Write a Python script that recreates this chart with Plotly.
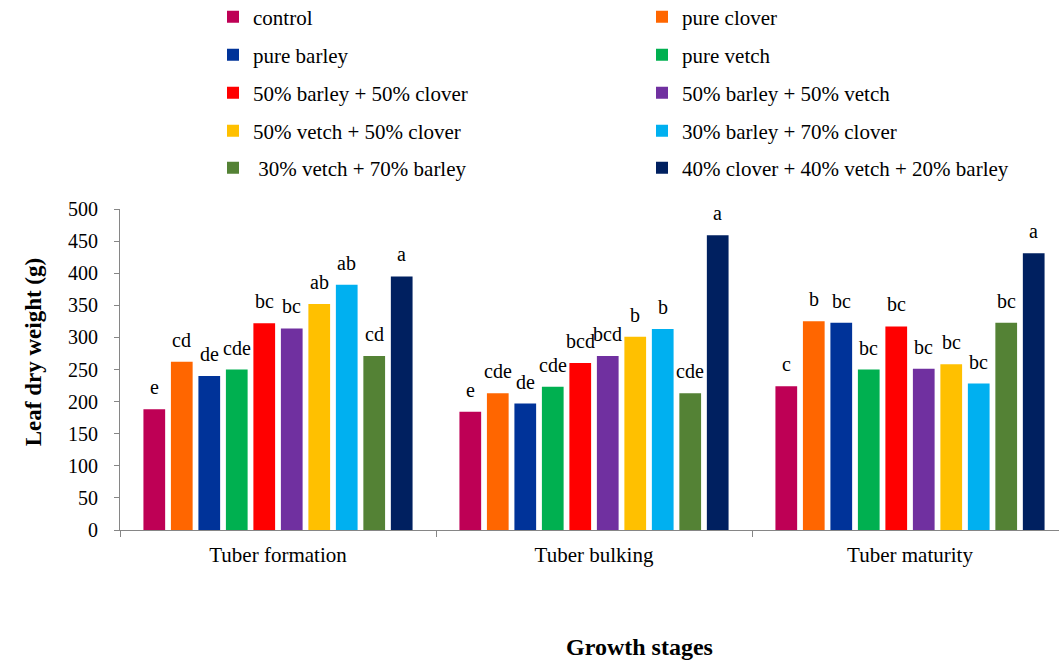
import plotly.graph_objects as go

# Growth stages (x categories)
stages = ["Tuber formation", "Tuber bulking", "Tuber maturity"]

# Treatments (series)
treatments = [
    "control",
    "pure clover",
    "pure barley",
    "pure vetch",
    "50% barley + 50% clover",
    "50% barley + 50% vetch",
    "50% vetch + 50% clover",
    "30% barley + 70% clover",
    " 30% vetch + 70% barley",
    "40% clover + 40% vetch + 20% barley",
]

# Leaf dry weight (g) per treatment, one value per growth stage
control = [188, 184, 224]
pure_clover = [262, 213, 325]
pure_barley = [240, 197, 323]
pure_vetch = [250, 223, 250]
barley50_clover50 = [322, 260, 317]
barley50_vetch50 = [314, 271, 251]
vetch50_clover50 = [352, 301, 258]
barley30_clover70 = [382, 313, 228]
vetch30_barley70 = [271, 213, 323]
clover40_vetch40_barley20 = [395, 459, 431]

# Mean separation letters
letters_control = ["e", "e", "c"]
letters_pure_clover = ["cd", "cde", "b"]
letters_pure_barley = ["de", "de", "bc"]
letters_pure_vetch = ["cde", "cde", "bc"]
letters_b50_c50 = ["bc", "bcd", "bc"]
letters_b50_v50 = ["bc", "bcd", "bc"]
letters_v50_c50 = ["ab", "b", "bc"]
letters_b30_c70 = ["ab", "b", "bc"]
letters_v30_b70 = ["cd", "cde", "bc"]
letters_mix = ["a", "a", "a"]

values = [control, pure_clover, pure_barley, pure_vetch, barley50_clover50,
          barley50_vetch50, vetch50_clover50, barley30_clover70,
          vetch30_barley70, clover40_vetch40_barley20]
letters = [letters_control, letters_pure_clover, letters_pure_barley,
           letters_pure_vetch, letters_b50_c50, letters_b50_v50,
           letters_v50_c50, letters_b30_c70, letters_v30_b70, letters_mix]

colors = ["#BE0055", "#FF6600", "#003399", "#00B050", "#FF0000",
          "#7030A0", "#FFC000", "#00B0F0", "#548235", "#002060"]

FONT = "Liberation Serif"
W, H = 1059, 660
L, T, B = 120, 208.5, 130
PW, PH = W - L, H - T - B
BARGAP, GROUPGAP = 0.13, 0.21
AXIS_GRAY = "#868686"

fig = go.Figure()

# legend positions (pixels): two columns, five rows
leg_cols = [213, 642]
leg_rows = [17, 55, 93, 131, 168]

for i, (name, vals, col) in enumerate(zip(treatments, values, colors)):
    lname = "legend" if i == 0 else f"legend{i + 1}"
    fig.add_trace(go.Bar(
        x=stages, y=vals, name=name, marker=dict(color=col, line=dict(width=0)),
        legend=lname, hoverinfo="x+y+name",
    ))
    r, c = divmod(i, 2)
    fig.update_layout({lname: dict(
        xref="container", yref="container",
        x=leg_cols[c] / W, y=1 - leg_rows[r] / H,
        xanchor="left", yanchor="middle",
        bgcolor="rgba(0,0,0,0)", borderwidth=0,
        font=dict(family=FONT, size=21, color="#000000"),
    )})

# letters above each bar
ntr = len(treatments)
slot = (1 - BARGAP) / ntr
annotations = []
for i in range(ntr):
    for j in range(len(stages)):
        xpos = j - (1 - BARGAP) / 2 + (i + 0.5) * slot
        annotations.append(dict(
            x=xpos, y=values[i][j], xref="x", yref="y",
            text=letters[i][j], showarrow=False,
            yanchor="bottom", yshift=9,
            font=dict(family=FONT, size=20, color="#000000"),
        ))

# axis titles
annotations.append(dict(
    text="<b>Leaf dry weight (g)</b>", textangle=-90, showarrow=False,
    xref="paper", yref="paper", x=(33 - L) / PW, y=(T + PH - 352) / PH,
    xanchor="center", yanchor="middle",
    font=dict(family=FONT, size=23, color="#000000"),
))
annotations.append(dict(
    text="<b>Growth stages</b>", showarrow=False,
    xref="paper", yref="paper", x=(639 - L) / PW, y=-(647 - (T + PH)) / PH,
    xanchor="center", yanchor="middle",
    font=dict(family=FONT, size=24, color="#000000"),
))

fig.update_layout(
    width=W, height=H,
    margin=dict(l=L, r=0, t=T, b=B, pad=0, autoexpand=False),
    barmode="group", bargap=BARGAP, bargroupgap=GROUPGAP,
    plot_bgcolor="white", paper_bgcolor="white",
    font=dict(family=FONT, size=18, color="#000000"),
    showlegend=True,
    annotations=annotations,
    xaxis=dict(
        type="category", range=[-0.5, -0.5 + PW / 316],
        showline=True, linecolor=AXIS_GRAY, linewidth=1,
        ticks="outside", tickson="boundaries", ticklen=6, tickcolor=AXIS_GRAY,
        showgrid=False, zeroline=False, tickangle=0, ticklabelstandoff=6,
        tickfont=dict(family=FONT, size=21, color="#000000"),
    ),
    yaxis=dict(
        range=[0, 500], dtick=50,
        showline=True, linecolor=AXIS_GRAY, linewidth=1,
        ticks="outside", ticklen=5, tickcolor=AXIS_GRAY,
        showgrid=False, zeroline=False, ticklabelstandoff=12,
        tickfont=dict(family=FONT, size=20, color="#000000"),
    ),
)

fig.write_html("out.html")
